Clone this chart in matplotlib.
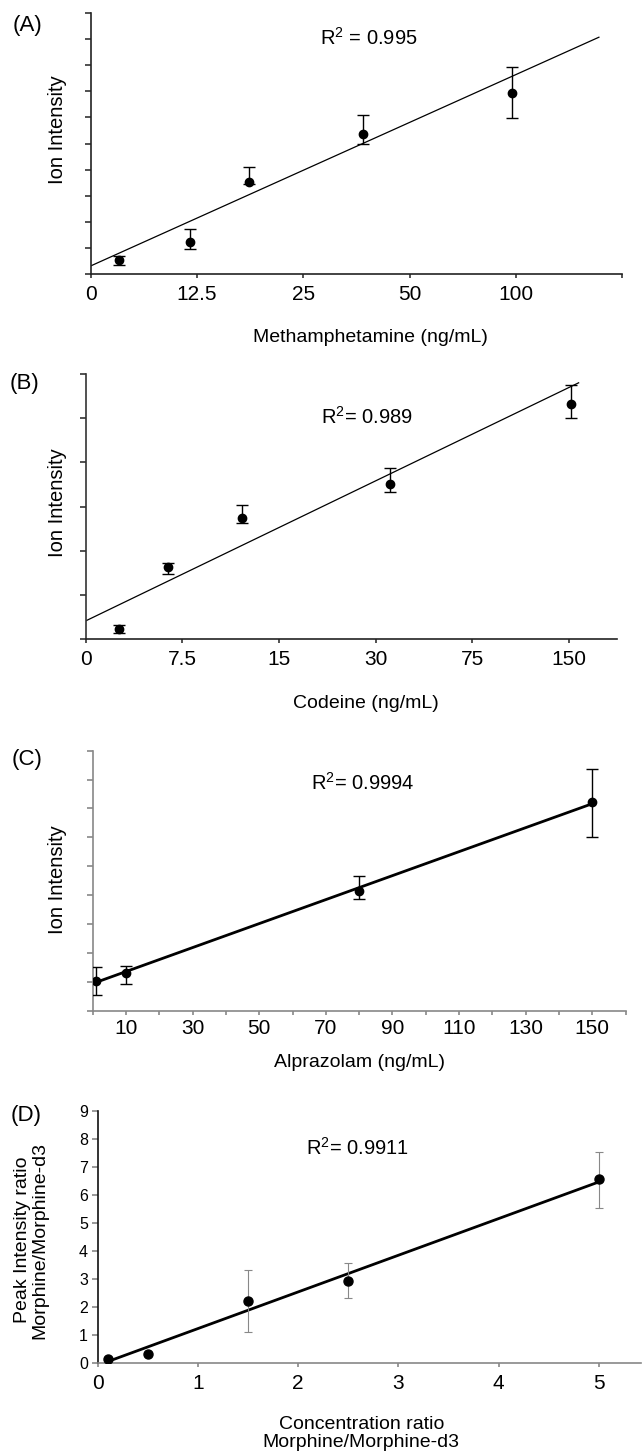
import numpy as np
import matplotlib
matplotlib.use('Agg')
import matplotlib.pyplot as plt

plt.rcParams['font.family'] = ['Liberation Sans', 'DejaVu Sans']
plt.rcParams['mathtext.fontset'] = 'custom'
plt.rcParams['mathtext.rm'] = 'Liberation Sans'
plt.rcParams['mathtext.it'] = 'Liberation Sans:italic'

a_labels = ['0', '12.5', '25', '50', '100', '']
a_x = [0.265, 0.935, 1.488, 2.56, 3.965]
a_y = [0.546, 1.23, 3.52, 5.375, 6.925]
a_lo = [0.19, 0.28, 0.06, 0.38, 0.95]
a_hi = [0.15, 0.49, 0.57, 0.73, 1.00]
a_fit = (1.829, 0.32, 4.78)   # slope, intercept, x end

# (B) codeine
b_labels = ['0', '7.5', '15', '30', '75', '150']
b_x = [0.349, 0.851, 1.613, 3.145, 5.02]
b_y = [0.227, 1.64, 2.736, 3.50, 5.33]
b_lo = [0.10, 0.17, 0.11, 0.18, 0.33]
b_hi = [0.09, 0.09, 0.29, 0.38, 0.41]
b_fit = (1.057, 0.41, 5.1)

# (C) alprazolam
c_x = [1, 10, 80, 150]
c_y = [1.04, 1.29, 4.14, 7.21]
c_lo = [0.50, 0.38, 0.29, 1.19]
c_hi = [0.48, 0.26, 0.53, 1.15]
c_fit = (0.0415, 0.94, 150)

# (D) morphine ratio
d_x = [0.1, 0.5, 1.5, 2.5, 5.0]
d_y = [0.14, 0.33, 2.20, 2.92, 6.56]
d_lo = [0.0, 0.0, 1.08, 0.60, 1.02]
d_hi = [0.0, 0.0, 1.13, 0.64, 0.97]
d_fit = (1.308, -0.08, 5.0)

W, H = 643, 1455
fig = plt.figure(figsize=(W / 100, H / 100), dpi=100)


def box(x0, y0, x1, y1):
    return [x0 / W, 1 - y1 / H, (x1 - x0) / W, (y1 - y0) / H]


def ftext(x, y, s, **kw):
    fig.text(x / W, 1 - y / H, s, ha='center', va='center', **kw)


def fit_line(ax, fit, x0, lw):
    xs = np.array([x0, fit[2]])
    ax.plot(xs, fit[0] * xs + fit[1], color='black', lw=lw, zorder=2)


def style(ax, spcol_l, spcol_b, tcol):
    for s in ['top', 'right']:
        ax.spines[s].set_visible(False)
    ax.spines['left'].set_color(spcol_l)
    ax.spines['bottom'].set_color(spcol_b)
    ax.spines['left'].set_linewidth(1.2)
    ax.spines['bottom'].set_linewidth(1.2)
    ax.tick_params(axis='y', direction='out', length=4, width=1.2, color=tcol)
    ax.tick_params(axis='x', direction='out', length=3, width=1.2, color=tcol,
                   labelsize=15, pad=5)
    ax.set_facecolor('none')


# ---- A
ax = fig.add_axes(box(90.7, 12.7, 622.3, 274.3))
fit_line(ax, a_fit, 0, 0.9)
ax.errorbar(a_x, a_y, yerr=[a_lo, a_hi], fmt='o', color='black', ms=6,
            elinewidth=1, capsize=4, capthick=1, zorder=3)
ax.set_xlim(0, 5)
ax.set_ylim(0, 10)
ax.set_xticks(range(6))
ax.set_xticklabels(a_labels)
ax.set_yticks(range(11))
ax.set_yticklabels([])
style(ax, '#222222', '#222222', '#333333')
ax.set_xlabel('Methamphetamine (ng/mL)', fontsize=14)
ax.xaxis.set_label_coords(0.527, -0.24)
ax.xaxis.label.set_va('center')
ax.set_ylabel('Ion Intensity', fontsize=14.5)
ax.yaxis.set_label_coords(-0.063, 0.552)
ax.yaxis.label.set_va('center')
ftext(27.5, 25, '(A)', fontsize=16)
ftext(369, 38, 'R$^2$ = 0.995', fontsize=14.5)

# ---- B
ax = fig.add_axes(box(85.7, 374, 617.3, 639))
fit_line(ax, b_fit, 0, 0.9)
ax.errorbar(b_x, b_y, yerr=[b_lo, b_hi], fmt='o', color='black', ms=6,
            elinewidth=1, capsize=4, capthick=1, zorder=3)
ax.set_xlim(0, 5.5)
ax.set_ylim(0, 6)
ax.set_xticks(range(6))
ax.set_xticklabels(b_labels)
ax.set_yticks(range(7))
ax.set_yticklabels([])
style(ax, '#333333', '#222222', '#333333')
ax.set_xlabel('Codeine (ng/mL)', fontsize=14)
ax.xaxis.set_label_coords(0.527, -0.242)
ax.xaxis.label.set_va('center')
ax.set_ylabel('Ion Intensity', fontsize=14.5)
ax.yaxis.set_label_coords(-0.053, 0.513)
ax.yaxis.label.set_va('center')
ftext(24.6, 383, '(B)', fontsize=16)
ftext(367, 417, 'R$^2$= 0.989', fontsize=14.5)

# ---- C
ax = fig.add_axes(box(92.7, 750.7, 625.5, 1010.7))
fit_line(ax, c_fit, 0.2, 2.0)
ax.errorbar(c_x, c_y, yerr=[c_lo, c_hi], fmt='o', color='black', ms=6,
            elinewidth=1, capsize=4, capthick=1, zorder=3)
ax.set_xlim(0, 160)
ax.set_ylim(0, 9)
ax.set_xticks(range(0, 161, 10))
ax.set_xticklabels([str(v) if v % 20 == 10 else '' for v in range(0, 161, 10)])
ax.set_yticks(range(10))
ax.set_yticklabels([])
style(ax, '#888888', '#888888', '#888888')
ax.tick_params(axis='x', pad=3)
ax.set_xlabel('Alprazolam (ng/mL)', fontsize=14)
ax.xaxis.set_label_coords(0.50, -0.201)
ax.xaxis.label.set_va('center')
ax.set_ylabel('Ion Intensity', fontsize=14.5)
ax.yaxis.set_label_coords(-0.066, 0.503)
ax.yaxis.label.set_va('center')
ftext(27.5, 760, '(C)', fontsize=16)
ftext(363, 783, 'R$^2$= 0.9994', fontsize=14.5)

# ---- D
ax = fig.add_axes(box(97.7, 1110.7, 641, 1363))
fit_line(ax, d_fit, 0.1, 2.0)
ax.errorbar(d_x, d_y, yerr=[d_lo, d_hi], fmt='none', ecolor='#888888',
            elinewidth=0.8, capsize=3, capthick=0.8, zorder=2)
ax.plot(d_x, d_y, 'o', color='black', ms=6.5, zorder=3)
ax.set_xlim(0, 5.42)
ax.set_ylim(0, 9)
ax.set_xticks(range(6))
ax.set_yticks(range(10))
style(ax, '#111111', '#888888', '#888888')
ax.tick_params(axis='y', labelsize=11.5, pad=3)
ax.set_xlabel('Concentration ratio\nMorphine/Morphine-d3', fontsize=14,
              linespacing=1.05)
ax.xaxis.set_label_coords(0.485, -0.28)
ax.xaxis.label.set_va('center')
ax.set_ylabel('Peak Intensity ratio\nMorphine/Morphine-d3', fontsize=14,
              linespacing=1.05)
ax.yaxis.set_label_coords(-0.123, 0.487)
ax.yaxis.label.set_va('center')
ftext(26.6, 1115, '(D)', fontsize=16)
ftext(357, 1148, 'R$^2$= 0.9911', fontsize=14.5)

fig.savefig('out.png', dpi=100)
